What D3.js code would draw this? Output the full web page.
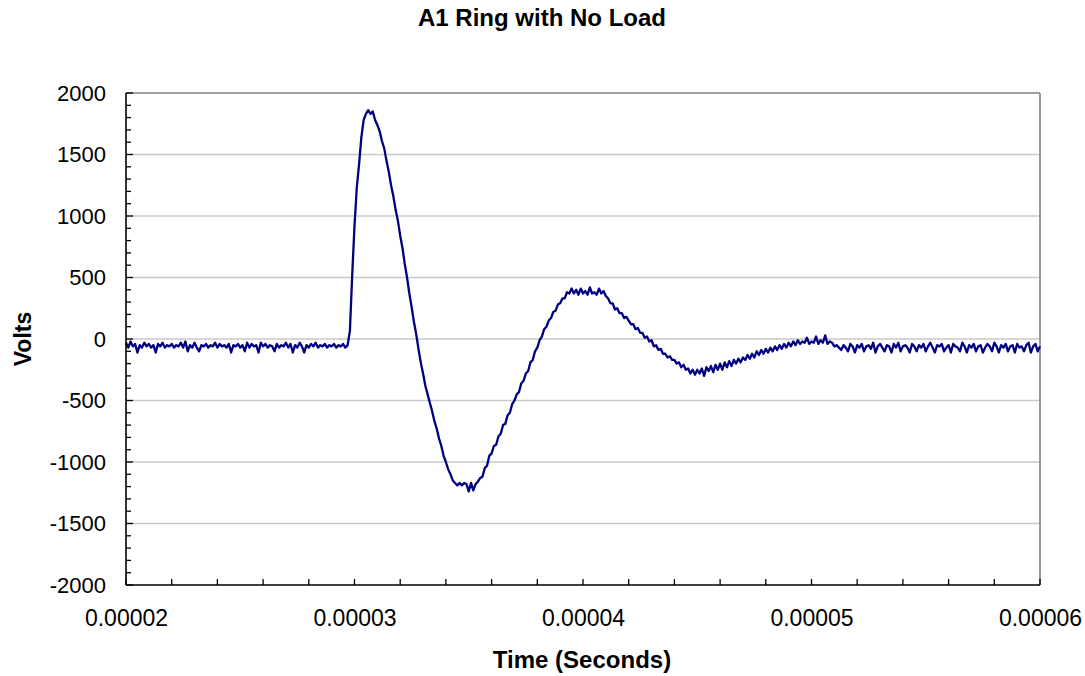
<!DOCTYPE html>
<html>
<head>
<meta charset="utf-8">
<script src="https://cdn.jsdelivr.net/npm/d3@7"></script>
<style>
  html, body { margin: 0; padding: 0; background: #fff; }
  svg { display: block; }
  text { font-family: "Liberation Sans", Arial, sans-serif; fill: #000; }
</style>
</head>
<body>
<svg id="chart" width="1085" height="676"></svg>
<script>
// ---------------- DATA ----------------
const chartTitle = "A1 Ring with No Load";
const xAxisTitle = "Time (Seconds)";
const yAxisTitle = "Volts";

// Oscilloscope record: first sample time and sample interval (seconds)
const sampleStartSec = 0.00002;
const sampleStepSec = 0.0000001;

// Voltage readings (V), one per sample, 20.0 us .. 60.0 us
const volts = [
  -30,-70,-20,-60,-40,-110,-50,-70,-30,-60,
  -40,-70,-50,-110,-40,-60,-30,-70,-50,-60,
  -40,-70,-50,-60,-30,-70,-20,-100,-50,-70,
  -30,-70,-100,-50,-60,-40,-70,-50,-60,-30,
  -70,-40,-60,-50,-70,-40,-110,-50,-60,-40,
  -70,-50,-100,-30,-70,-40,-60,-50,-110,-30,
  -60,-40,-70,-50,-60,-100,-40,-70,-50,-60,
  -30,-70,-40,-110,-50,-70,-30,-60,-110,-50,
  -70,-40,-60,-30,-70,-50,-60,-40,-70,-50,
  -60,-40,-70,-50,-60,-40,-70,-50,70,520,
  920,1230,1420,1640,1780,1830,1860,1830,1850,1780,
  1740,1690,1610,1550,1450,1360,1250,1160,1050,960,
  840,740,610,500,370,260,140,40,-80,-190,
  -280,-380,-450,-520,-590,-670,-730,-810,-870,-950,
  -1000,-1060,-1100,-1150,-1170,-1190,-1170,-1190,-1170,-1180,
  -1240,-1170,-1230,-1180,-1160,-1130,-1120,-1050,-1030,-950,
  -930,-870,-860,-790,-770,-700,-690,-620,-600,-530,
  -500,-450,-430,-360,-340,-280,-260,-190,-170,-100,
  -70,-10,20,80,100,150,170,220,230,280,
  290,330,330,380,370,410,370,400,360,410,
  370,390,360,420,370,380,360,410,370,390,
  350,330,290,290,240,250,210,210,170,180,
  150,120,120,80,90,50,50,10,20,-20,
  -10,-60,-50,-90,-80,-120,-120,-150,-140,-170,
  -170,-200,-190,-230,-210,-250,-240,-280,-250,-290,
  -250,-280,-240,-300,-230,-260,-220,-270,-210,-250,
  -200,-250,-190,-230,-180,-220,-170,-200,-160,-190,
  -150,-170,-130,-160,-120,-150,-100,-130,-90,-120,
  -80,-110,-70,-100,-60,-90,-50,-80,-40,-70,
  -30,-60,-20,-50,-10,-40,-20,-30,10,-40,
  -20,-30,20,-40,-10,-30,30,-40,-20,-30,
  -60,-50,-70,-90,-50,-70,-100,-40,-60,-110,
  -50,-70,-40,-100,-60,-50,-80,-30,-110,-60,
  -40,-70,-100,-50,-60,-110,-40,-70,-30,-100,
  -60,-50,-70,-110,-40,-60,-100,-50,-70,-40,
  -100,-60,-30,-70,-110,-50,-60,-40,-100,-70,
  -50,-110,-40,-60,-70,-100,-30,-60,-110,-50,
  -70,-40,-100,-60,-50,-110,-70,-40,-60,-100,
  -30,-60,-110,-50,-70,-40,-100,-60,-50,-110,
  -40,-70,-60,-100,-50,-30,-110,-60,-40,-100,
  -60
];

// Axis ticks
const xTicks = [0.00002, 0.00003, 0.00004, 0.00005, 0.00006];
const xTickLabels = ["0.00002", "0.00003", "0.00004", "0.00005", "0.00006"];
const yTicks = [-2000, -1500, -1000, -500, 0, 500, 1000, 1500, 2000];
const yTickLabels = ["-2000", "-1500", "-1000", "-500", "0", "500", "1000", "1500", "2000"];
const xMinorStep = 0.000002;
const yMinorStep = 100;

// ---------------- LAYOUT ----------------
const svg = d3.select("#chart");
const plot = { left: 126, right: 1040, top: 93, bottom: 585 };

const x = d3.scaleLinear().domain([0.00002, 0.00006]).range([plot.left, plot.right]);
const y = d3.scaleLinear().domain([-2000, 2000]).range([plot.bottom, plot.top]);

const series = volts.map((v, i) => ({ t: sampleStartSec + i * sampleStepSec, v }));

// Gridlines
svg.append("g")
  .selectAll("line")
  .data(yTicks.filter(d => d > -2000 && d < 2000))
  .join("line")
  .attr("x1", plot.left).attr("x2", plot.right)
  .attr("y1", d => y(d)).attr("y2", d => y(d))
  .attr("stroke", "#c8c8c8").attr("stroke-width", 1.5);

// Top and right border (gray)
svg.append("line")
  .attr("x1", plot.left).attr("x2", plot.right)
  .attr("y1", plot.top).attr("y2", plot.top)
  .attr("stroke", "#808080").attr("stroke-width", 1.6);
svg.append("line")
  .attr("x1", plot.right).attr("x2", plot.right)
  .attr("y1", plot.top).attr("y2", plot.bottom)
  .attr("stroke", "#808080").attr("stroke-width", 1.6);

// Data line
const line = d3.line().x(d => x(d.t)).y(d => y(d.v));
svg.append("path")
  .datum(series)
  .attr("fill", "none")
  .attr("stroke", "#000080")
  .attr("stroke-width", 2.3)
  .attr("stroke-linejoin", "round")
  .attr("d", line);

// Y axis (ticks point inward)
const yMinor = d3.range(-2000, 2000 + 1, yMinorStep);
const yAxis = d3.axisLeft(y).tickValues(yTicks).tickSize(0).tickPadding(20)
  .tickFormat((d, i) => yTickLabels[i]);
const gy = svg.append("g").attr("transform", `translate(${plot.left},0)`).call(yAxis);
gy.select(".domain").remove();
gy.selectAll("text").attr("font-size", 22).attr("font-family", "Liberation Sans, Arial, sans-serif").attr("fill", "#000");
svg.append("g").selectAll("line").data(yMinor).join("line")
  .attr("x1", plot.left).attr("x2", d => plot.left + (d % 500 === 0 ? 7 : 5))
  .attr("y1", d => y(d)).attr("y2", d => y(d))
  .attr("stroke", "#000").attr("stroke-width", 1.3);

// X axis (ticks point inward)
const xMinor = d3.range(0, 21).map(i => 0.00002 + i * xMinorStep);
const xAxis = d3.axisBottom(x).tickValues(xTicks).tickSize(0).tickPadding(25)
  .tickFormat((d, i) => xTickLabels[i]);
const gx = svg.append("g").attr("transform", `translate(0,${plot.bottom})`).call(xAxis);
gx.select(".domain").remove();
gx.selectAll("text").attr("font-size", 23).attr("font-family", "Liberation Sans, Arial, sans-serif").attr("fill", "#000");
svg.append("g").selectAll("line").data(xMinor).join("line")
  .attr("x1", d => x(d)).attr("x2", d => x(d))
  .attr("y1", plot.bottom).attr("y2", plot.bottom - 6)
  .attr("stroke", "#000").attr("stroke-width", 1.3);

// Axis lines
svg.append("line")
  .attr("x1", plot.left).attr("x2", plot.left)
  .attr("y1", plot.top).attr("y2", plot.bottom)
  .attr("stroke", "#000").attr("stroke-width", 1.6);
svg.append("line")
  .attr("x1", plot.left).attr("x2", plot.right)
  .attr("y1", plot.bottom).attr("y2", plot.bottom)
  .attr("stroke", "#000").attr("stroke-width", 1.6);

// Titles
svg.append("text")
  .attr("x", 542).attr("y", 26)
  .attr("text-anchor", "middle")
  .attr("font-size", 24).attr("font-weight", "bold")
  .text(chartTitle);
svg.append("text")
  .attr("x", 582).attr("y", 668)
  .attr("text-anchor", "middle")
  .attr("font-size", 24).attr("font-weight", "bold")
  .text(xAxisTitle);
svg.append("text")
  .attr("transform", `translate(31,339) rotate(-90)`)
  .attr("text-anchor", "middle")
  .attr("font-size", 23).attr("font-weight", "bold")
  .text(yAxisTitle);
</script>
</body>
</html>
